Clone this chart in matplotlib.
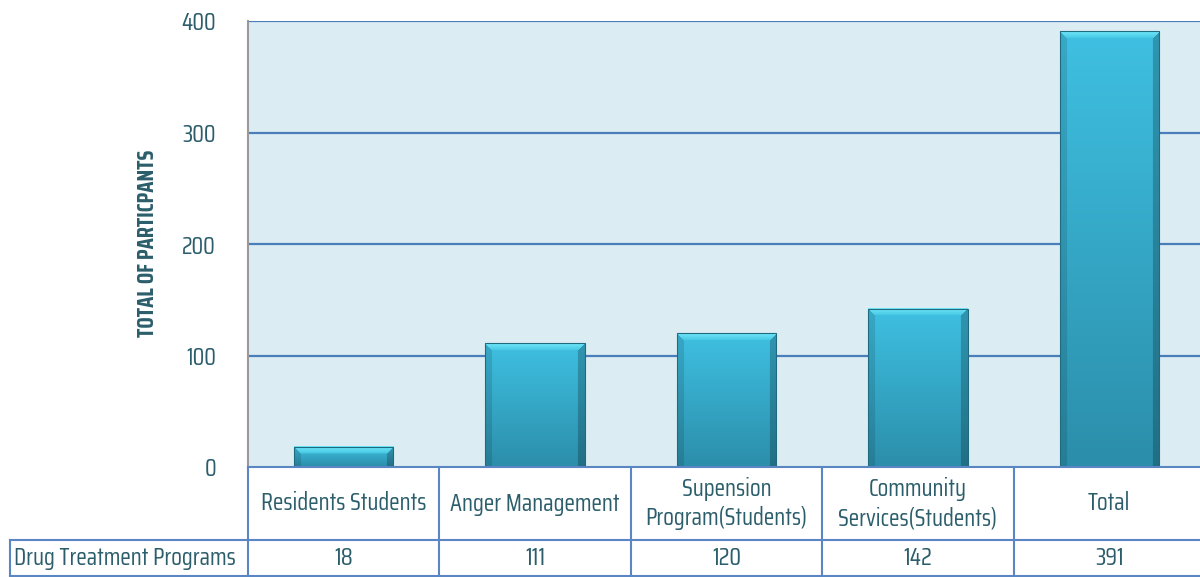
import numpy as np
import matplotlib
matplotlib.use('Agg')
import matplotlib.pyplot as plt
from matplotlib import font_manager as fm
from matplotlib.colors import to_rgb

# chart data
categories = ['Residents Students', 'Anger Management', 'Supension\nProgram(Students)',
              'Community\nServices(Students)', 'Total']
participants = [18, 111, 120, 142, 391]
row_label = 'Drug Treatment Programs'
y_ticks = [0, 100, 200, 300, 400]

# pick a narrow font similar to Agency FB
have = {f.name for f in fm.fontManager.ttflist}
wanted = ['Agency FB', 'Saira Condensed', 'Saira ExtraCondensed', 'Saira Extra Condensed',
          'Pathway Gothic One', 'Antonio', 'Archivo Narrow', 'Alumni Sans']
font = next((f for f in wanted if f in have), 'DejaVu Sans')
plt.rcParams['font.family'] = [font, 'DejaVu Sans']

txt_col = '#2b5d6b'
grid_col = '#4a7ebb'
table_col = '#5b86c4'

fig = plt.figure(figsize=(12, 5.77), dpi=100)
renderer = fig.canvas.get_renderer()


def fit_size(s, width_px, **kw):
    # font size that makes the string about width_px wide
    t = fig.text(0, 0, s, fontsize=10, **kw)
    w = t.get_window_extent(renderer).width
    t.remove()
    return 10 * width_px / w


table_fs = fit_size(row_label, 222)
tick_fs = fit_size('400', 35)
ylab_fs = fit_size('TOTAL OF PARTICPANTS', 187, fontweight='bold')

ax = fig.add_axes([248 / 1200, 1 - 467 / 577, 957 / 1200, 446 / 577])
ax.set_facecolor('#dbedf3')

x = np.arange(len(categories))
bars = ax.bar(x, participants, width=0.52, color='none', zorder=3)
ax.set_xlim(-0.5, len(categories) - 0.5)
ax.set_ylim(0, 400)

# bevelled gradient fill for each bar
top_c = np.array(to_rgb('#3fc0e2'))
bot_c = np.array(to_rgb('#2b8eaa'))
bevel_top = np.array(to_rgb('#6ee6f8'))
bevel_bot = np.array(to_rgb('#45c6e4'))
for rect in bars:
    x0, w, h = rect.get_x(), rect.get_width(), rect.get_height()
    (px0, py0), (px1, py1) = ax.transData.transform([(x0, 0), (x0 + w, h)])
    W, H = max(int(px1 - px0), 2), max(int(py1 - py0), 2)
    t = np.linspace(0, 1, H)[:, None, None]
    img = top_c * (1 - t) + bot_c * t
    img = np.broadcast_to(img, (H, W, 3)).copy()
    b = 7
    rows, cols = np.mgrid[0:H, 0:W]
    left = (cols < b) & (rows >= cols)
    right = (cols >= W - b) & (rows >= W - 1 - cols)
    img[left] = img[left] * 0.88
    img[right] = img[right] * 0.78
    topband = (rows < b) & (cols >= rows) & (cols <= W - 1 - rows)
    k = (rows / b)[..., None]
    img = np.where(topband[..., None], bevel_top * (1 - k) + bevel_bot * k, img)
    ax.imshow(img, extent=(x0, x0 + w, 0, h), aspect='auto', zorder=3,
              interpolation='bilinear')
    ax.add_patch(plt.Rectangle((x0, 0), w, h, facecolor='none',
                               edgecolor='#1f6b80', lw=0.8, zorder=4))
ax.set_xlim(-0.5, len(categories) - 0.5)
ax.set_ylim(0, 400)

# gridlines and spines
ax.set_yticks(y_ticks)
for v in y_ticks[1:]:
    ax.axhline(v, color=grid_col, lw=1.6, zorder=1)
for s in ['top', 'right', 'bottom']:
    ax.spines[s].set_visible(False)
ax.spines['left'].set_color('#9a9a9a')
ax.spines['left'].set_linewidth(1.5)
ax.tick_params(axis='y', length=0, pad=23, labelsize=tick_fs, labelcolor=txt_col)
ax.tick_params(axis='x', bottom=False, labelbottom=False)
ax.text(148 / 1200, 1 - 243 / 577, 'TOTAL OF PARTICPANTS', transform=fig.transFigure,
        rotation=90, ha='center', va='center', fontsize=ylab_fs,
        fontweight='bold', color=txt_col)

# data table under the axis
tr = ax.get_xaxis_transform()
hdr_bot = -73 / 446
row_bot = -109 / 446
n = len(categories)
lk = dict(color=table_col, lw=1.5, clip_on=False, transform=tr, zorder=5)
ax.plot([-0.5, n], [0, 0], **lk)
for i in range(n + 1):
    ax.plot([i - 0.5, i - 0.5], [0, row_bot], **lk)
# row-label cell reaches left nearly to the figure edge
left_x = -0.5 - (248 - 10) / 191.4
ax.plot([left_x, n], [hdr_bot, hdr_bot], **lk)
ax.plot([left_x, n], [row_bot, row_bot], **lk)
ax.plot([left_x, left_x], [hdr_bot, row_bot], **lk)

for i, (c, v) in enumerate(zip(categories, participants)):
    ax.text(i, hdr_bot / 2, c, transform=tr, ha='center', va='center',
            fontsize=table_fs, color=txt_col, linespacing=1.3, clip_on=False)
    ax.text(i, (hdr_bot + row_bot) / 2, str(v), transform=tr, ha='center',
            va='center', fontsize=table_fs, color=txt_col, clip_on=False)
ax.text(-0.5 - (248 - 14) / 191.4, (hdr_bot + row_bot) / 2, row_label, transform=tr,
        ha='left', va='center', fontsize=table_fs, color=txt_col, clip_on=False)

fig.savefig('out.png', dpi=100)
